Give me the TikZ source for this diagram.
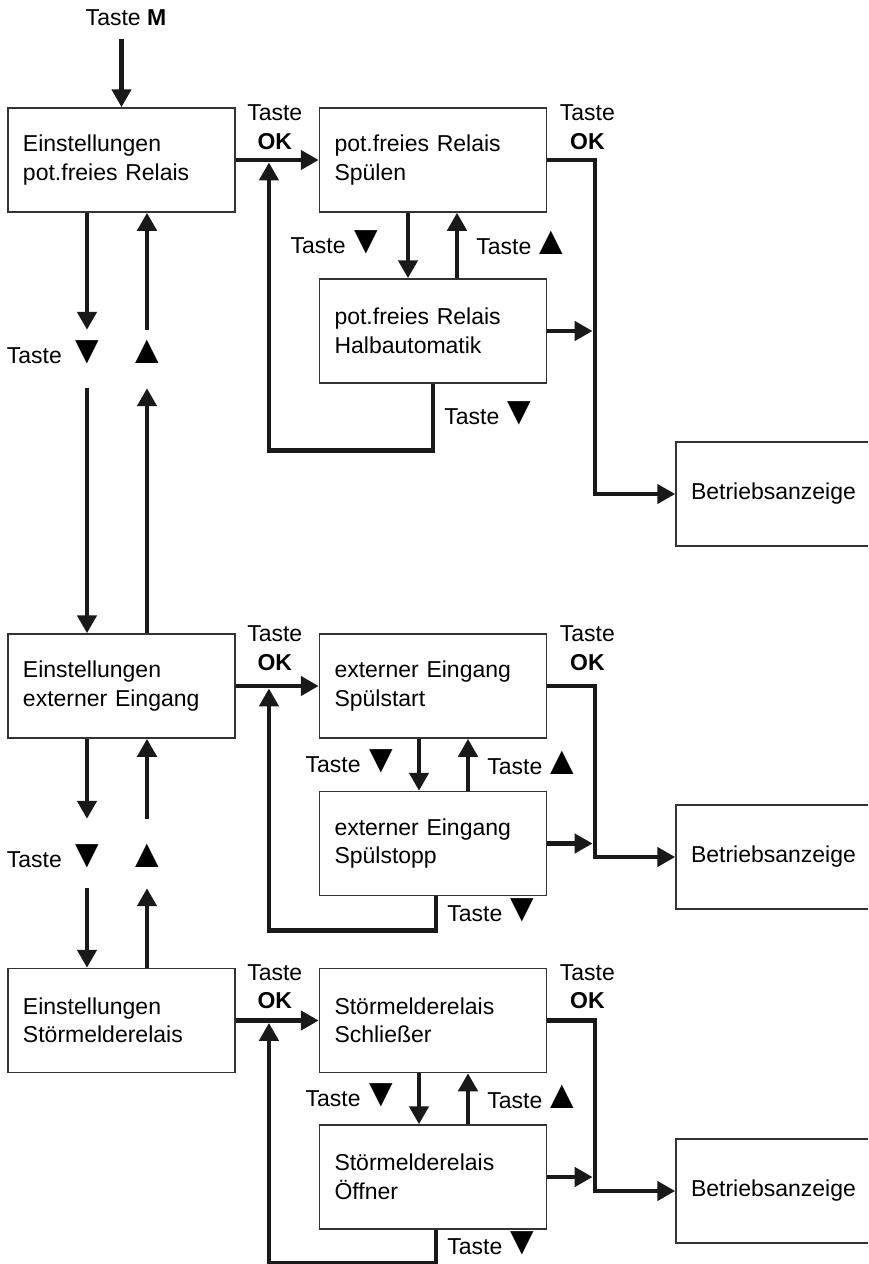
\documentclass[tikz,border=0pt]{standalone}
\usepackage{fontspec}
\setmainfont{Liberation Sans}
\usetikzlibrary{positioning,arrows.meta,calc}
\newcommand{\bigtri}[1]{{\fontsize{40}{40}\selectfont#1}}
\newcommand{\keydn}{\kern-6pt\bigtri{▼}}
\newcommand{\keyup}{\kern-6pt\bigtri{▲}}
\tikzset{
  >={Triangle[length=18pt,width=19pt]},
  menu/.style={
    rectangle,
    draw=black!80, line width=1.5pt,
    text width=197pt,
    inner xsep=15pt,
    minimum height=104pt,
    align=left},
  line/.style={draw=black!90, line width=4.8pt, ->},
  key/.style={inner sep=0pt},
  glyph/.style={key, anchor=base},
}

\begin{document}
\begin{tikzpicture}[x=1pt, y=-1pt, font=\fontsize{23}{28.5}\selectfont]

    \useasboundingbox (0,0) rectangle (868,1264);
    \clip (0,0) rectangle (868,1264);

    % menu boxes
    \node[menu] (einst1) at (121.5,160)  {Einstellungen\\pot.freies Relais};
    \node[menu] (einst2) at (121.5,686)  {Einstellungen\\externer Eingang};
    \node[menu] (einst3) at (121.5,1020.5) {Einstellungen\\Störmelderelais};

    \node[menu] (rel1)   at (433,160)    {pot.freies Relais\\Spülen};
    \node[menu] (rel2)   at (433,331)    {pot.freies Relais\\Halbautomatik};
    \node[menu] (ein1)   at (433,686)    {externer Eingang\\Spülstart};
    \node[menu] (ein2)   at (433,843.5)  {externer Eingang\\Spülstopp};
    \node[menu] (stoer1) at (433,1020.5) {Störmelderelais\\Schließer};
    \node[menu] (stoer2) at (433,1177)   {Störmelderelais\\Öffner};

    \node[menu] (betr1)  at (789.5,494)  {Betriebsanzeige};
    \node[menu] (betr2)  at (789.5,857)  {Betriebsanzeige};
    \node[menu] (betr3)  at (789.5,1191) {Betriebsanzeige};

    \coordinate (sum) at (595,0);

    % entry
    \node[key] (tm) at (126,18) {Taste \textbf{M}};
    \draw[line, shorten <=13pt] (tm.south -| einst1.north) -- (einst1.north);

    % left column
    \node[glyph, text height=33pt, text depth=25pt] (dn1) at (87,363)  {\bigtri{▼}};
    \node[glyph, text height=33pt, text depth=25pt] (up1) at (147,363) {\bigtri{▲}};
    \node[key, anchor=base east] at ([xshift=-5pt]dn1.base west) {Taste};
    \node[glyph, text height=48pt, text depth=21pt] (dn2) at (87,867)  {\bigtri{▼}};
    \node[glyph, text height=48pt, text depth=21pt] (up2) at (147,867) {\bigtri{▲}};
    \node[key, anchor=base east] at ([xshift=-5pt]dn2.base west) {Taste};

    \draw[line] (einst1.south -| dn1) -- (dn1.north);
    \draw[line] (dn1.south) -- (einst2.north -| dn1);
    \draw[line] (einst2.north -| up1) -- (up1.south);
    \draw[line] (up1.north) -- (einst1.south -| up1);
    \draw[line] (einst2.south -| dn2) -- (dn2.north);
    \draw[line] (dn2.south) -- (einst3.north -| dn2);
    \draw[line] (einst3.north -| up2) -- (up2.south);
    \draw[line] (up2.north) -- (einst2.south -| up2);

    % pot.freies Relais
    \draw[line] (einst1.east) -- coordinate[pos=0.4] (ok1)
        node[key, above=8pt, pos=0.47, align=center] {Taste\\\textbf{OK}} (rel1.west);
    \draw[line] ([xshift=-25pt]rel1.south) -- node[key, left=20pt, yshift=3pt] {Taste \keydn} ([xshift=-25pt]rel2.north);
    \draw[line] ([xshift=24pt]rel2.north) -- node[key, right=17pt, yshift=3pt] {Taste \keyup} ([xshift=24pt]rel1.south);
    \draw[line, shorten >=2.4pt] (rel2.south) -- node[key, right=9pt, yshift=4pt] {Taste \keydn} ++(0,67) -| (ok1);
    \draw[line] (rel1.east) -- node[key, above=8pt, pos=0.84, align=center] {Taste\\\textbf{OK}}
        (rel1.east -| sum) |- (betr1.west);
    \draw[line, shorten >=2.4pt] (rel2.east) -- (rel2.east -| sum);

    % externer Eingang
    \draw[line] (einst2.east) -- coordinate[pos=0.4] (ok2)
        node[key, above=13pt, pos=0.47, align=center] {Taste\\\textbf{OK}} (ein1.west);
    \draw[line] ([xshift=-14pt]ein1.south) -- node[key, left=16pt, yshift=3pt] {Taste \keydn} ([xshift=-14pt]ein2.north);
    \draw[line] ([xshift=35pt]ein2.north) -- node[key, right=17pt, yshift=2pt] {Taste \keyup} ([xshift=35pt]ein1.south);
    \draw[line, shorten >=2.4pt] ([xshift=3pt]ein2.south) -- node[key, right=9pt, yshift=3pt] {Taste \keydn} ++(0,34) -| (ok2);
    \draw[line] (ein1.east) -- node[key, above=13pt, pos=0.84, align=center] {Taste\\\textbf{OK}}
        (ein1.east -| sum) |- (betr2.west);
    \draw[line, shorten >=2.4pt] (ein2.east) -- (ein2.east -| sum);

    % Stoermelderelais
    \draw[line] (einst3.east) -- coordinate[pos=0.4] (ok3)
        node[key, above=9pt, pos=0.47, align=center] {Taste\\\textbf{OK}} (stoer1.west);
    \draw[line] ([xshift=-14pt]stoer1.south) -- node[key, left=16pt, yshift=3pt] {Taste \keydn} ([xshift=-14pt]stoer2.north);
    \draw[line] ([xshift=35pt]stoer2.north) -- node[key, right=17pt, yshift=2pt] {Taste \keyup} ([xshift=35pt]stoer1.south);
    \draw[line, shorten >=2.4pt] ([xshift=3pt]stoer2.south) -- node[key, right=9pt, yshift=3pt] {Taste \keydn} ++(0,34) -| (ok3);
    \draw[line] (stoer1.east) -- node[key, above=9pt, pos=0.84, align=center] {Taste\\\textbf{OK}}
        (stoer1.east -| sum) |- (betr3.west);
    \draw[line, shorten >=2.4pt] (stoer2.east) -- (stoer2.east -| sum);

\end{tikzpicture}
\end{document}
